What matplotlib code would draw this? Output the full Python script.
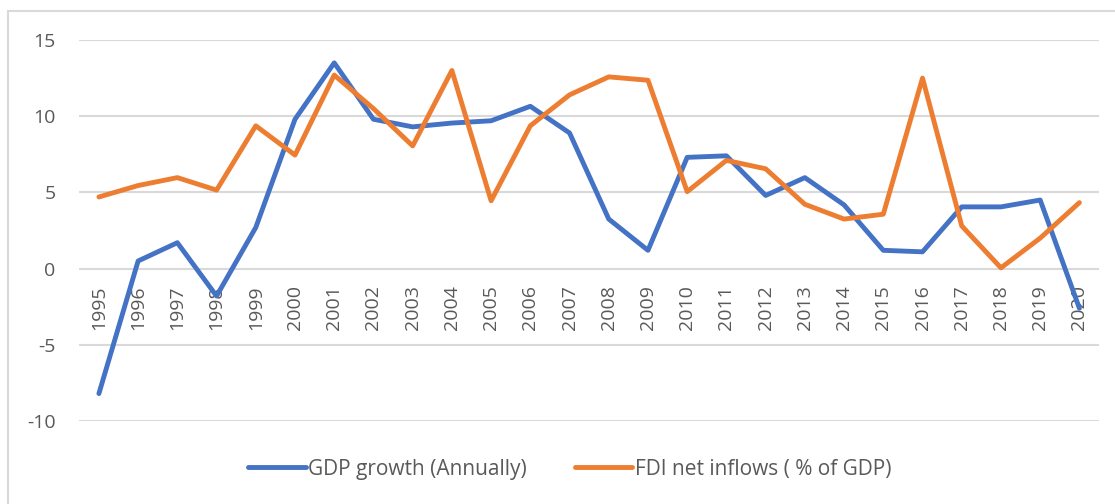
import matplotlib
matplotlib.use("Agg")
import matplotlib.pyplot as plt
from matplotlib.patches import Rectangle

years = list(range(1995, 2021))
year_labels = [str(y) for y in years]
gdp_growth = [-8.2, 0.5, 1.7, -1.8, 2.7, 9.8, 13.5, 9.8, 9.3, 9.55, 9.7, 10.65,
              8.9, 3.25, 1.2, 7.3, 7.4, 4.8, 5.97, 4.18, 1.2, 1.1, 4.05, 4.05, 4.5, -2.6]
fdi_inflows = [4.7, 5.45, 5.97, 5.15, 9.37, 7.45, 12.7, 10.5, 8.05, 13.0, 4.45, 9.37,
               11.4, 12.58, 12.36, 5.05, 7.1, 6.55, 4.22, 3.25, 3.57, 12.5, 2.8, 0.05, 2.0, 4.33]
yticks = [-10, -5, 0, 5, 10, 15]
series_names = ["GDP growth (Annually)", "FDI net inflows ( % of GDP)"]

plt.rcParams['font.family'] = ['Open Sans', 'DejaVu Sans']
TEXT = '#595959'
FS = 14

fig = plt.figure(figsize=(11.15, 5.04), dpi=100)
ax = fig.add_axes([79.3/1115, 1-421/504, (1099-79.3)/1115, (421-40)/504])

for s in ax.spines.values():
    s.set_visible(False)
ax.spines['bottom'].set_position(('data', 0))

x = list(range(len(years)))
l1, = ax.plot(x, gdp_growth, color='#4472C4', lw=3.5, solid_joinstyle='round',
              solid_capstyle='round', label=series_names[0], zorder=3)
l2, = ax.plot(x, fdi_inflows, color='#ED7D31', lw=3.5, solid_joinstyle='round',
              solid_capstyle='round', label=series_names[1], zorder=4)

ax.set_xlim(-0.5, len(years) - 0.5)
ax.set_ylim(-10, 15)
ax.set_yticks(yticks)
ax.set_yticklabels([str(v) for v in yticks])
ax.set_xticks(x)
ax.set_xticklabels(year_labels, rotation=90, va='top')
ax.grid(axis='y', color='#D9D9D9', lw=1.5, zorder=0)
ax.set_axisbelow(True)
ax.tick_params(axis='y', length=0, pad=17, labelsize=FS, labelcolor=TEXT)
ax.tick_params(axis='x', length=0, pad=12, labelsize=FS, labelcolor=TEXT)

fig.legend(handles=[l1, l2], loc='center', bbox_to_anchor=(570/1115, 1-469/504),
           ncol=2, frameon=False, fontsize=15, labelcolor=TEXT,
           handlelength=2.74, handletextpad=0.14, columnspacing=2.3,
           borderpad=0, borderaxespad=0)

fig.patches.append(Rectangle((8.3/1115, -0.2), 1.2, 1.2 - 10.7/504,
                             transform=fig.transFigure, fill=False,
                             edgecolor='#D9D9D9', lw=1.5))

fig.savefig('out.png', dpi=100, facecolor='white')
